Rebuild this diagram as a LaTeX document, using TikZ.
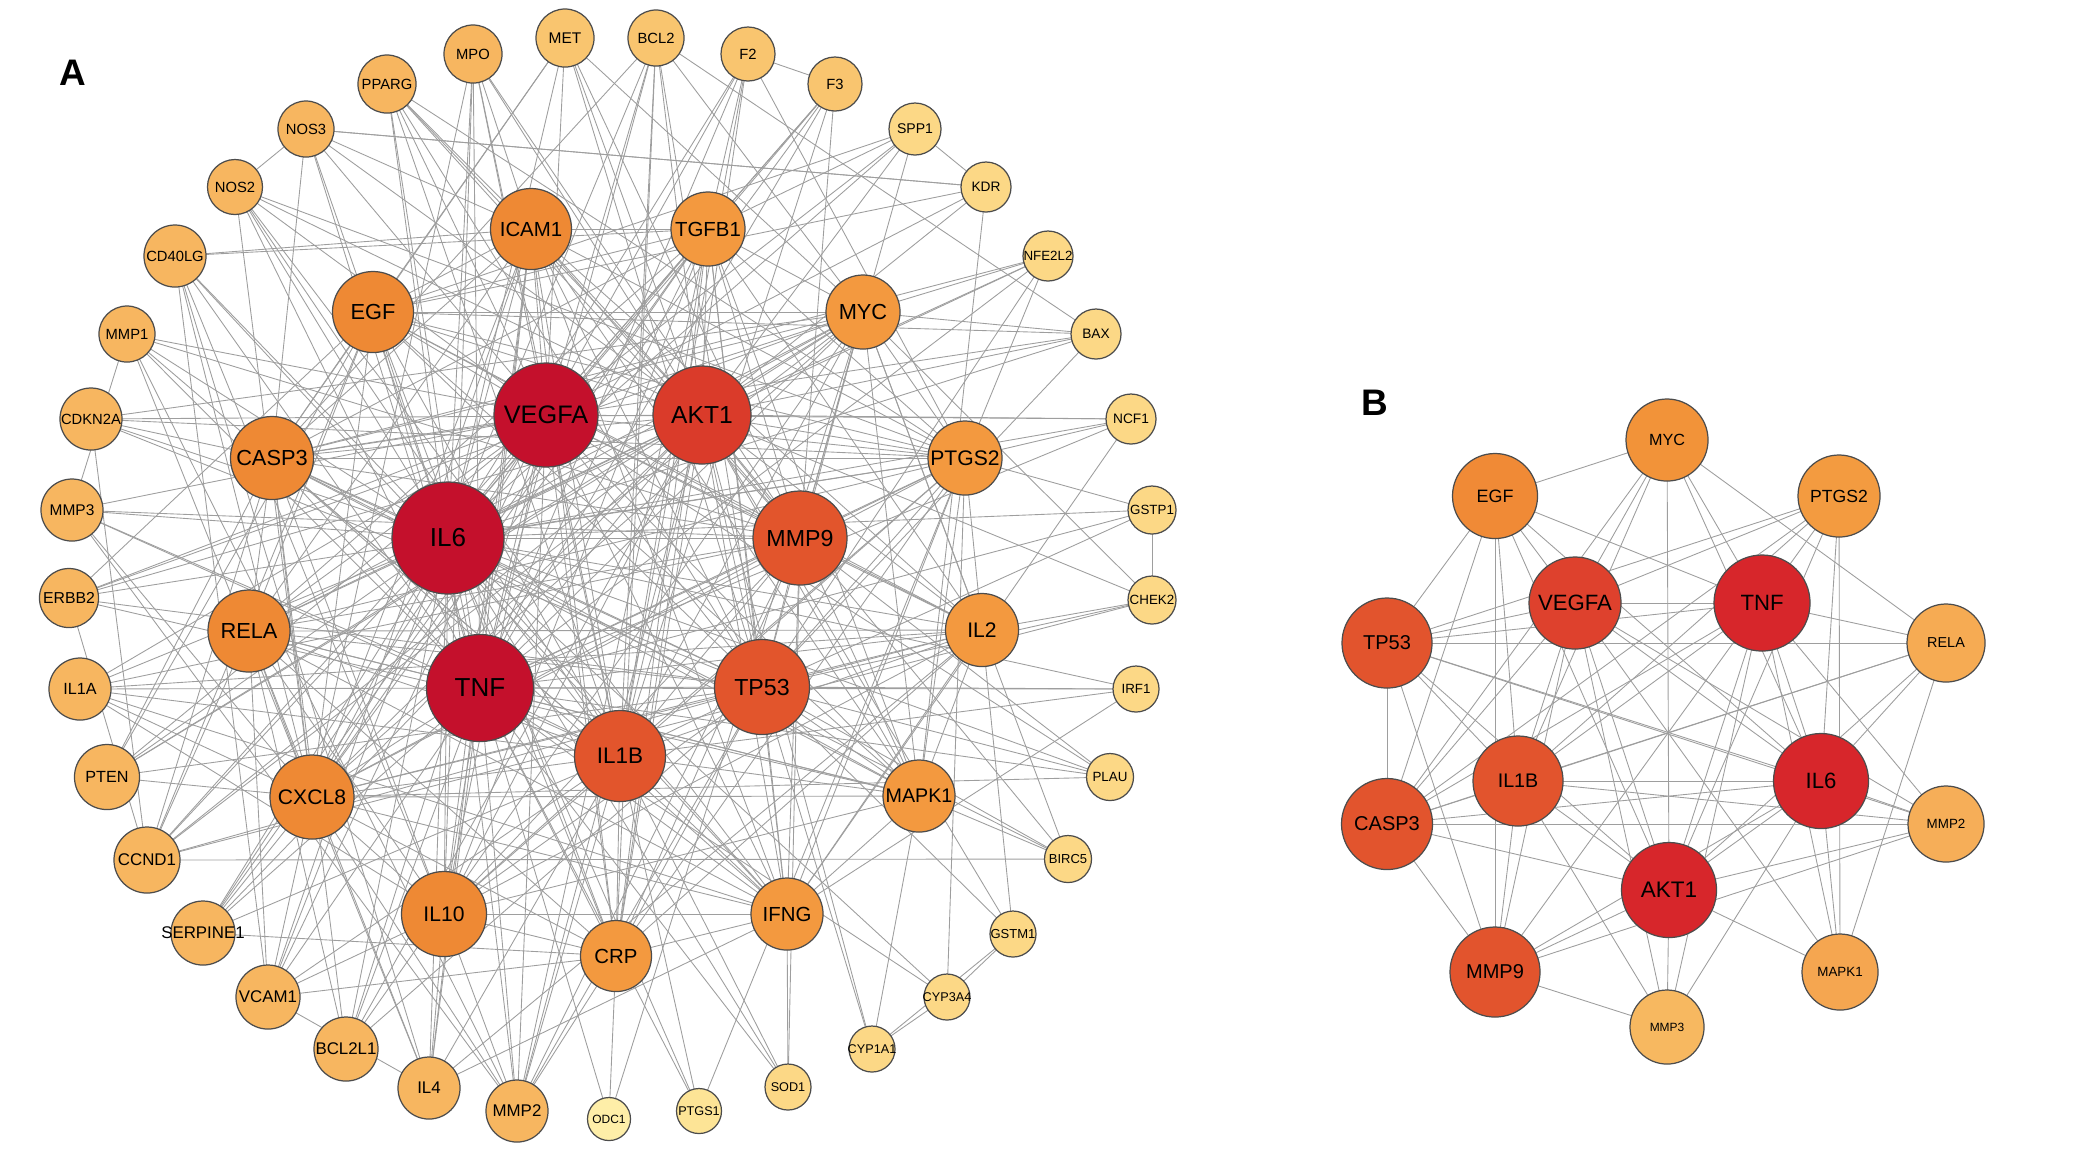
\documentclass[tikz,border=0pt]{standalone}
\usepackage{fontspec}
\setmainfont{Liberation Sans}
\usetikzlibrary{backgrounds}

\definecolor{hubred}{HTML}{C4102C}
\definecolor{aktred}{HTML}{DA3B2A}
\definecolor{corered}{HTML}{E2552C}
\definecolor{ringdeep}{HTML}{EE8934}
\definecolor{ringlight}{HTML}{F3993F}
\definecolor{outorange}{HTML}{F7B660}
\definecolor{outmid}{HTML}{F9C56F}
\definecolor{outpale}{HTML}{FCD886}
\definecolor{outlight}{HTML}{FDE496}
\definecolor{outwhite}{HTML}{FEEEA8}
\definecolor{bred}{HTML}{D7262B}
\definecolor{bvegfa}{HTML}{DE412D}
\definecolor{bcore}{HTML}{E2542D}
\definecolor{begf}{HTML}{F08A36}
\definecolor{bmyc}{HTML}{F29339}
\definecolor{bptgs}{HTML}{F39B40}
\definecolor{brela}{HTML}{F6AB53}
\definecolor{bmmp}{HTML}{F6AE58}
\definecolor{bmapk}{HTML}{F5A650}
\definecolor{bmmpl}{HTML}{F7B860}

\newcommand{\gsize}[1]{\fontsize{#1}{#1}\selectfont}
\newcommand{\gn}[1]{\makebox[0pt]{#1}}

\tikzset{
  gene/.style={circle, draw=black!70, line width=0.35pt, inner sep=0pt, outer sep=0pt},
  link/.style={draw=black!38, line width=0.25pt},
  panel/.style={font=\gsize{10.5}\bfseries},
}

\begin{document}
\begin{tikzpicture}[x=0.01cm, y=-0.01cm]
\useasboundingbox (0,0) rectangle (2083,1156);

\node[panel] (labA) at (73,73) {A};
\node[panel] (labB) at (1375,403) {B};

% network A, outer ring
\node[gene, minimum size=0.58cm, fill=outorange, font=\gsize{4.2}] (MPO) at (473,54) {\gn{MPO}};
\node[gene, minimum size=0.58cm, fill=outmid, font=\gsize{4.4}] (MET) at (565,38) {\gn{MET}};
\node[gene, minimum size=0.56cm, fill=outmid, font=\gsize{4.2}] (BCL2) at (656,38) {\gn{BCL2}};
\node[gene, minimum size=0.54cm, fill=outmid, font=\gsize{4.2}] (F2) at (748,54) {\gn{F2}};
\node[gene, minimum size=0.54cm, fill=outmid, font=\gsize{4.2}] (F3) at (835,84) {\gn{F3}};
\node[gene, minimum size=0.52cm, fill=outpale, font=\gsize{4.0}] (SPP1) at (915,129) {\gn{SPP1}};
\node[gene, minimum size=0.50cm, fill=outpale, font=\gsize{3.9}] (KDR) at (986,187) {\gn{KDR}};
\node[gene, minimum size=0.50cm, fill=outpale, font=\gsize{3.8}] (NFE2L2) at (1048,256) {\gn{NFE2L2}};
\node[gene, minimum size=0.50cm, fill=outpale, font=\gsize{3.9}] (BAX) at (1096,334) {\gn{BAX}};
\node[gene, minimum size=0.50cm, fill=outpale, font=\gsize{3.9}] (NCF1) at (1131,419) {\gn{NCF1}};
\node[gene, minimum size=0.48cm, fill=outpale, font=\gsize{3.8}] (GSTP1) at (1152,510) {\gn{GSTP1}};
\node[gene, minimum size=0.48cm, fill=outpale, font=\gsize{3.8}] (CHEK2) at (1152,600) {\gn{CHEK2}};
\node[gene, minimum size=0.46cm, fill=outpale, font=\gsize{3.8}] (IRF1) at (1136,689) {\gn{IRF1}};
\node[gene, minimum size=0.47cm, fill=outpale, font=\gsize{3.8}] (PLAU) at (1110,777) {\gn{PLAU}};
\node[gene, minimum size=0.47cm, fill=outpale, font=\gsize{3.7}] (BIRC5) at (1068,859) {\gn{BIRC5}};
\node[gene, minimum size=0.46cm, fill=outpale, font=\gsize{3.7}] (GSTM1) at (1013,934) {\gn{GSTM1}};
\node[gene, minimum size=0.46cm, fill=outpale, font=\gsize{3.6}] (CYP3A4) at (947,997) {\gn{CYP3A4}};
\node[gene, minimum size=0.46cm, fill=outpale, font=\gsize{3.6}] (CYP1A1) at (872,1049) {\gn{CYP1A1}};
\node[gene, minimum size=0.46cm, fill=outpale, font=\gsize{3.6}] (SOD1) at (788,1087) {\gn{SOD1}};
\node[gene, minimum size=0.45cm, fill=outlight, font=\gsize{3.6}] (PTGS1) at (699,1111) {\gn{PTGS1}};
\node[gene, minimum size=0.43cm, fill=outwhite, font=\gsize{3.4}] (ODC1) at (609,1119) {\gn{ODC1}};
\node[gene, minimum size=0.62cm, fill=outorange, font=\gsize{4.8}] (MMP2) at (517,1111) {\gn{MMP2}};
\node[gene, minimum size=0.62cm, fill=outorange, font=\gsize{4.8}] (IL4) at (429,1088) {\gn{IL4}};
\node[gene, minimum size=0.64cm, fill=outorange, font=\gsize{4.8}] (BCL2L1) at (346,1049) {\gn{BCL2L1}};
\node[gene, minimum size=0.64cm, fill=outorange, font=\gsize{4.8}] (VCAM1) at (268,997) {\gn{VCAM1}};
\node[gene, minimum size=0.64cm, fill=outorange, font=\gsize{4.8}] (SERPINE1) at (203,933) {\gn{SERPINE1}};
\node[gene, minimum size=0.66cm, fill=outorange, font=\gsize{4.8}] (CCND1) at (147,860) {\gn{CCND1}};
\node[gene, minimum size=0.65cm, fill=outorange, font=\gsize{4.6}] (PTEN) at (107,777) {\gn{PTEN}};
\node[gene, minimum size=0.62cm, fill=outorange, font=\gsize{4.6}] (IL1A) at (80,689) {\gn{IL1A}};
\node[gene, minimum size=0.59cm, fill=outorange, font=\gsize{4.5}] (ERBB2) at (69,598) {\gn{ERBB2}};
\node[gene, minimum size=0.62cm, fill=outorange, font=\gsize{4.4}] (MMP3) at (72,510) {\gn{MMP3}};
\node[gene, minimum size=0.62cm, fill=outorange, font=\gsize{4.2}] (CDKN2A) at (91,419) {\gn{CDKN2A}};
\node[gene, minimum size=0.56cm, fill=outorange, font=\gsize{4.2}] (MMP1) at (127,334) {\gn{MMP1}};
\node[gene, minimum size=0.62cm, fill=outorange, font=\gsize{4.2}] (CD40LG) at (175,256) {\gn{CD40LG}};
\node[gene, minimum size=0.55cm, fill=outorange, font=\gsize{4.2}] (NOS2) at (235,187) {\gn{NOS2}};
\node[gene, minimum size=0.56cm, fill=outorange, font=\gsize{4.2}] (NOS3) at (306,129) {\gn{NOS3}};
\node[gene, minimum size=0.58cm, fill=outorange, font=\gsize{4.2}] (PPARG) at (387,84) {\gn{PPARG}};

% network A, inner ring
\node[gene, minimum size=0.81cm, fill=ringdeep, font=\gsize{5.8}] (ICAM1) at (531,229) {\gn{ICAM1}};
\node[gene, minimum size=0.74cm, fill=ringlight, font=\gsize{5.8}] (TGFB1) at (708,229) {\gn{TGFB1}};
\node[gene, minimum size=0.81cm, fill=ringdeep, font=\gsize{6.2}] (EGF) at (373,312) {\gn{EGF}};
\node[gene, minimum size=0.74cm, fill=ringlight, font=\gsize{6.2}] (MYC) at (863,312) {\gn{MYC}};
\node[gene, minimum size=0.83cm, fill=ringdeep, font=\gsize{6.2}] (CASP3) at (272,458) {\gn{CASP3}};
\node[gene, minimum size=0.74cm, fill=ringlight, font=\gsize{6.0}] (PTGS2) at (965,458) {\gn{PTGS2}};
\node[gene, minimum size=0.82cm, fill=ringdeep, font=\gsize{6.2}] (RELA) at (249,631) {\gn{RELA}};
\node[gene, minimum size=0.73cm, fill=ringlight, font=\gsize{6.0}] (IL2) at (982,630) {\gn{IL2}};
\node[gene, minimum size=0.84cm, fill=ringdeep, font=\gsize{6.0}] (CXCL8) at (312,797) {\gn{CXCL8}};
\node[gene, minimum size=0.72cm, fill=ringlight, font=\gsize{5.6}] (MAPK1) at (919,796) {\gn{MAPK1}};
\node[gene, minimum size=0.85cm, fill=ringdeep, font=\gsize{6.0}] (IL10) at (444,914) {\gn{IL10}};
\node[gene, minimum size=0.72cm, fill=ringlight, font=\gsize{5.8}] (IFNG) at (787,914) {\gn{IFNG}};
\node[gene, minimum size=0.71cm, fill=ringlight, font=\gsize{5.8}] (CRP) at (616,956) {\gn{CRP}};

% network A, hubs
\node[gene, minimum size=1.04cm, fill=hubred, font=\gsize{7.2}] (VEGFA) at (546,415) {\gn{VEGFA}};
\node[gene, minimum size=0.98cm, fill=aktred, font=\gsize{7.0}] (AKT1) at (702,415) {\gn{AKT1}};
\node[gene, minimum size=1.12cm, fill=hubred, font=\gsize{7.4}] (IL6) at (448,538) {\gn{IL6}};
\node[gene, minimum size=0.94cm, fill=corered, font=\gsize{6.6}] (MMP9) at (800,538) {\gn{MMP9}};
\node[gene, minimum size=1.07cm, fill=hubred, font=\gsize{7.4}] (TNF) at (480,688) {\gn{TNF}};
\node[gene, minimum size=0.95cm, fill=corered, font=\gsize{6.6}] (TP53) at (762,687) {\gn{TP53}};
\node[gene, minimum size=0.91cm, fill=corered, font=\gsize{6.4}] (IL1B) at (620,756) {\gn{IL1B}};

% network B
\node[gene, minimum size=0.82cm, fill=bmyc, font=\gsize{4.6}] (bMYC) at (1667,440) {\gn{MYC}};
\node[gene, minimum size=0.85cm, fill=begf, font=\gsize{5.1}] (bEGF) at (1495,496) {\gn{EGF}};
\node[gene, minimum size=0.82cm, fill=bptgs, font=\gsize{5.0}] (bPTGS2) at (1839,496) {\gn{PTGS2}};
\node[gene, minimum size=0.92cm, fill=bvegfa, font=\gsize{6.3}] (bVEGFA) at (1575,603) {\gn{VEGFA}};
\node[gene, minimum size=0.96cm, fill=bred, font=\gsize{6.3}] (bTNF) at (1762,603) {\gn{TNF}};
\node[gene, minimum size=0.90cm, fill=bcore, font=\gsize{5.7}] (bTP53) at (1387,643) {\gn{TP53}};
\node[gene, minimum size=0.78cm, fill=brela, font=\gsize{4.1}] (bRELA) at (1946,643) {\gn{RELA}};
\node[gene, minimum size=0.90cm, fill=bcore, font=\gsize{5.6}] (bIL1B) at (1518,781) {\gn{IL1B}};
\node[gene, minimum size=0.95cm, fill=bred, font=\gsize{6.3}] (bIL6) at (1821,781) {\gn{IL6}};
\node[gene, minimum size=0.91cm, fill=bcore, font=\gsize{5.7}] (bCASP3) at (1387,824) {\gn{CASP3}};
\node[gene, minimum size=0.76cm, fill=bmmp, font=\gsize{3.8}] (bMMP2) at (1946,824) {\gn{MMP2}};
\node[gene, minimum size=0.95cm, fill=bred, font=\gsize{6.4}] (bAKT1) at (1669,890) {\gn{AKT1}};
\node[gene, minimum size=0.90cm, fill=bcore, font=\gsize{5.7}] (bMMP9) at (1495,972) {\gn{MMP9}};
\node[gene, minimum size=0.76cm, fill=bmapk, font=\gsize{3.8}] (bMAPK1) at (1840,972) {\gn{MAPK1}};
\node[gene, minimum size=0.74cm, fill=bmmpl, font=\gsize{3.4}] (bMMP3) at (1667,1027) {\gn{MMP3}};

\begin{pgfonlayer}{background}
% A: outer ring links
\foreach \s/\ts in {MPO/{VEGFA,IL6,TNF,IL1B,ICAM1,MMP9,IL10,AKT1,CXCL8},
    MET/{AKT1,VEGFA,TP53,EGF,MYC,IL6,MMP9,CASP3},
    BCL2/{AKT1,TP53,CASP3,TNF,IL6,MYC,BAX,VEGFA,IL1B,CRP},
    F2/{VEGFA,TNF,IL6,TGFB1,PTGS2,F3,CRP,IL1B},
    F3/{VEGFA,TNF,IL6,IL1B,TGFB1,MMP9,CXCL8},
    SPP1/{VEGFA,MMP9,TGFB1,AKT1,IL6,KDR,EGF},
    KDR/{VEGFA,AKT1,NOS3,MAPK1,EGF},
    NFE2L2/{AKT1,MYC,TP53,IL6,CASP3,PTGS2,TNF},
    BAX/{TP53,CASP3,AKT1,MYC,IL6,EGF},
    NCF1/{TNF,IL6,PTGS2,VEGFA,AKT1,IFNG},
    GSTP1/{TP53,PTGS2,TNF,IL6,CHEK2},
    CHEK2/{TP53,MYC,AKT1,IL2,CCND1},
    IRF1/{TP53,IFNG,TNF,IL6,IL1B},
    PLAU/{VEGFA,MMP9,TNF,TP53,CXCL8,IL6},
    BIRC5/{TP53,AKT1,MYC,CASP3,CCND1,MAPK1},
    GSTM1/{TP53,IL2,CYP1A1,CYP3A4,AKT1},
    CYP3A4/{CYP1A1,IL6,TNF,PTGS2},
    CYP1A1/{MAPK1,TP53,AKT1},
    SOD1/{IFNG,IL6,TNF,IL1B,MMP9},
    PTGS1/{IL6,TNF,IL1B,PTGS2},
    ODC1/{MYC,TNF,CRP},
    MMP2/{VEGFA,TNF,IL6,MMP9,IL1B,TGFB1,TP53,AKT1,CXCL8,IL10,MMP3,MMP1,CRP},
    IL4/{IL6,TNF,IL10,IL1B,IFNG,IL2,CXCL8,VCAM1,ICAM1,RELA},
    BCL2L1/{AKT1,TP53,CASP3,IL6,TNF,MYC,VEGFA,RELA},
    VCAM1/{TNF,IL6,IL1B,ICAM1,VEGFA,CXCL8,RELA,IL10,CRP},
    SERPINE1/{TNF,VEGFA,IL6,TGFB1,IL1B,AKT1,CXCL8,CRP},
    CCND1/{AKT1,MYC,TP53,IL6,VEGFA,EGF,CASP3,RELA},
    PTEN/{AKT1,TP53,VEGFA,IL6,MYC,CASP3,EGF,CXCL8},
    IL1A/{IL6,TNF,IL1B,CXCL8,IL10,MMP9,IL2,IFNG,VEGFA},
    ERBB2/{AKT1,EGF,TP53,VEGFA,MYC,CCND1,PTGS2,MAPK1},
    MMP3/{MMP9,TNF,IL6,IL1B,VEGFA,CXCL8,MMP1},
    CDKN2A/{TP53,MYC,AKT1,CCND1,IL6,CASP3,PTGS2},
    MMP1/{MMP9,TNF,IL6,IL1B,VEGFA,CXCL8},
    CD40LG/{TNF,IL6,IL10,IL4,ICAM1,VCAM1,CXCL8,IFNG,TGFB1},
    NOS2/{TNF,IL6,IL1B,IFNG,VEGFA,AKT1,CXCL8,PTGS2,NOS3},
    NOS3/{VEGFA,AKT1,TNF,IL6,KDR,ICAM1,CASP3},
    PPARG/{TNF,IL6,VEGFA,AKT1,TP53,PTGS2,IL1B,MMP9,ICAM1}}
  {\foreach \t in \ts \draw[link] (\s) -- (\t);}

% A: hubs with each other and with the inner ring
\foreach \s/\ts in {VEGFA/{AKT1,IL6,MMP9,TNF,TP53,IL1B}, AKT1/{IL6,MMP9,TNF,TP53,IL1B},
    IL6/{MMP9,TNF,TP53,IL1B}, MMP9/{TNF,TP53,IL1B}, TNF/{TP53,IL1B}, TP53/{IL1B}}
  {\foreach \t in \ts \draw[link] (\s) -- (\t);}
\foreach \s in {VEGFA,AKT1,IL6,MMP9,TNF,TP53,IL1B}
  \foreach \t in {ICAM1,TGFB1,EGF,MYC,CASP3,PTGS2,RELA,IL2,CXCL8,MAPK1,IL10,IFNG,CRP}
    \draw[link] (\s) -- (\t);

% A: inner ring links
\foreach \s/\ts in {ICAM1/{TGFB1,EGF,CXCL8,IL10,RELA,IFNG,CRP,IL2,PTGS2,CASP3,MAPK1},
    TGFB1/{EGF,MYC,CASP3,IL10,CXCL8,IFNG,MAPK1,IL2,CRP,RELA,PTGS2},
    MYC/{EGF,CASP3,PTGS2,MAPK1,RELA,CXCL8,IL2},
    PTGS2/{EGF,CASP3,RELA,CXCL8,IL10,IFNG,MAPK1,IL2,CRP},
    IL2/{RELA,IFNG,IL10,CXCL8,MAPK1,CRP,EGF},
    MAPK1/{EGF,CASP3,CXCL8,RELA,IFNG,IL10},
    IFNG/{IL10,CXCL8,CRP,RELA,CASP3},
    CRP/{IL10,CXCL8,RELA,EGF},
    IL10/{CXCL8,RELA,CASP3},
    CXCL8/{RELA,CASP3,EGF},
    RELA/{CASP3,EGF},
    CASP3/{EGF}}
  {\foreach \t in \ts \draw[link] (\s) -- (\t);}

% B links
\foreach \s/\ts in {bMYC/{bEGF,bVEGFA,bIL1B,bCASP3,bAKT1,bTNF,bIL6,bRELA},
    bEGF/{bTP53,bCASP3,bMMP9,bIL1B,bVEGFA,bAKT1,bTNF,bIL6},
    bPTGS2/{bVEGFA,bTP53,bTNF,bIL1B,bAKT1,bCASP3,bIL6,bMAPK1},
    bTP53/{bVEGFA,bTNF,bRELA,bCASP3,bIL1B,bIL6,bAKT1,bMMP9,bMMP2},
    bVEGFA/{bTNF,bIL1B,bAKT1,bIL6,bMAPK1,bMMP9,bCASP3,bMMP3,bMMP2},
    bTNF/{bRELA,bIL1B,bIL6,bAKT1,bCASP3,bMMP9,bMMP3,bMAPK1,bMMP2},
    bRELA/{bIL1B,bIL6,bAKT1,bCASP3,bMAPK1},
    bIL1B/{bIL6,bAKT1,bCASP3,bMMP9,bMMP3,bMMP2},
    bIL6/{bAKT1,bCASP3,bMMP2,bMAPK1,bMMP9,bMMP3},
    bCASP3/{bAKT1,bMMP9,bMMP2},
    bAKT1/{bMMP9,bMMP3,bMAPK1,bMMP2},
    bMMP9/{bMMP3,bMMP2}}
  {\foreach \t in \ts \draw[link] (\s) -- (\t);}
\end{pgfonlayer}
\end{tikzpicture}
\end{document}
